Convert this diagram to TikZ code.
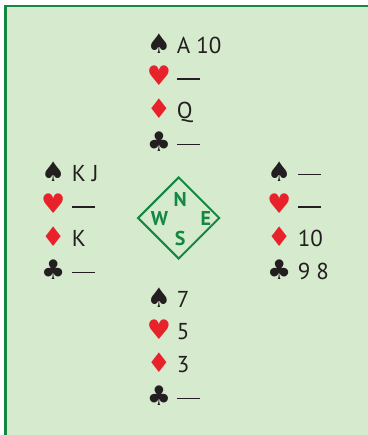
\documentclass[tikz,border=0pt]{standalone}
\usepackage{fontspec}
\setmainfont{PT Sans}
\newfontfamily\suitfont{DejaVu Sans}
\usepackage{tikz}
\usetikzlibrary{shapes.geometric, positioning}
\definecolor{cardbg}{RGB}{214,234,205}
\definecolor{cardgreen}{RGB}{20,136,66}
\definecolor{cardred}{RGB}{232,34,42}
\definecolor{cardink}{RGB}{35,31,32}
\newcommand{\void}{\rule[3.1pt]{11.5pt}{0.6pt}}

\begin{document}
\begin{tikzpicture}[x=0.5pt, y=-0.5pt, node distance=5pt]
    % styles
    \tikzstyle{suit} = [inner sep=0pt, text width=10pt, align=center, text height=9pt, text depth=2pt, font=\fontsize{13.5}{13.5}\suitfont, text=cardink]
    \tikzstyle{redsuit} = [suit, text=cardred]
    \tikzstyle{cards} = [inner sep=0pt, text height=9pt, text depth=2pt, font=\fontsize{11.5}{13}\selectfont, text=cardink]
    \tikzstyle{dir} = [inner sep=0pt, font=\fontsize{10}{12}\selectfont\bfseries, text=cardgreen]

    % frame
    \useasboundingbox (0,0) rectangle (368,435);
    \fill[cardbg] (5.5,6) rectangle (368,435);
    \draw[cardgreen, line width=1.4pt] (5.5,435) -- (5.5,6) -- (368,6);

    % north
    \node [suit] (ns) at (157,46) {♠};
    \node [redsuit, below=of ns] (nh) {♥};
    \node [redsuit, below=of nh] (nd) {♦};
    \node [suit, below=of nd] (nc) {♣};
    \node [cards, right=4.5pt of ns] (nsc) {A 10};
    \node [cards, right=4.5pt of nh] (nhc) {\void};
    \node [cards, right=4.5pt of nd] (ndc) {Q};
    \node [cards, right=4.5pt of nc] (ncc) {\void};

    % west
    \node [suit] (ws) at (51,174) {♠};
    \node [redsuit, below=of ws] (wh) {♥};
    \node [redsuit, below=of wh] (wd) {♦};
    \node [suit, below=of wd] (wc) {♣};
    \node [cards, right=5pt of ws] (wsc) {K J};
    \node [cards, right=5pt of wh] (whc) {\void};
    \node [cards, right=5pt of wd] (wdc) {K};
    \node [cards, right=5pt of wc] (wcc) {\void};

    % east
    \node [suit] (es) at (277,174) {♠};
    \node [redsuit, below=of es] (eh) {♥};
    \node [redsuit, below=of eh] (ed) {♦};
    \node [suit, below=of ed] (ec) {♣};
    \node [cards, right=5pt of es] (esc) {\void};
    \node [cards, right=5pt of eh] (ehc) {\void};
    \node [cards, right=5pt of ed] (edc) {10};
    \node [cards, right=5pt of ec] (ecc) {9 8};

    % south
    \node [suit] (ss) at (157,300) {♠};
    \node [redsuit, below=of ss] (sh) {♥};
    \node [redsuit, below=of sh] (sd) {♦};
    \node [suit, below=of sd] (sc) {♣};
    \node [cards, right=4.5pt of ss] (ssc) {7};
    \node [cards, right=4.5pt of sh] (shc) {5};
    \node [cards, right=4.5pt of sd] (sdc) {3};
    \node [cards, right=4.5pt of sc] (scc) {\void};

    % compass
    \node [diamond, draw=cardgreen, line width=1pt, inner sep=0pt, minimum width=41pt, minimum height=41pt] (compass) at (178.7,218) {};
    \node [dir] (dn) at (compass) [xshift=0.7pt, yshift=9.4pt] {N};
    \node [dir] (dw) at (compass) [xshift=-9.6pt, yshift=-0.3pt] {W};
    \node [dir] (de) at (compass) [xshift=13.6pt] {E};
    \node [dir] (ds) at (compass) [xshift=0.7pt, yshift=-10.2pt] {S};
\end{tikzpicture}
\end{document}
